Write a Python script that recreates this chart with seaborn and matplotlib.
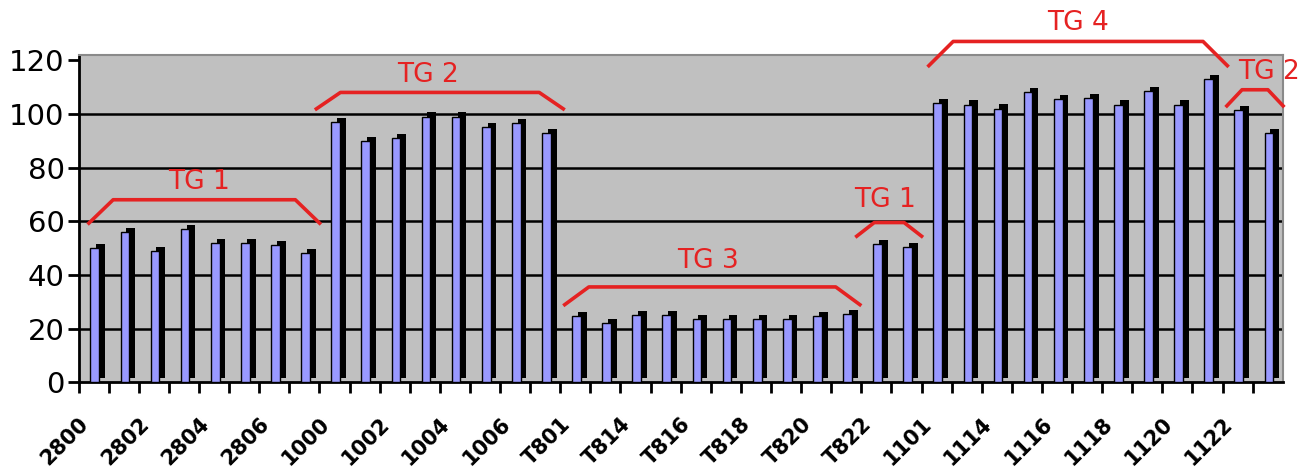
import numpy as np
import pandas as pd
import matplotlib
matplotlib.use("Agg")
import matplotlib.pyplot as plt
import matplotlib.patheffects as pe
import seaborn as sns

# Measured values per bar, grouped by test group
tg1_a = [50, 56, 49, 57, 52, 52, 51, 48]
tg2_a = [97, 90, 91, 99, 99, 95, 96.5, 93]
tg3 = [24.5, 22, 25, 25, 23.5, 23.5, 23.5, 23.5, 24.5, 25.5]
tg1_b = [51.5, 50.5]
tg4 = [104, 103.5, 102, 108, 105.5, 105.8, 103.5, 108.5, 103.5, 113]
tg2_b = [101.5, 93]

# Category labels (one for every second bar)
tick_labels = ["2800", "2802", "2804", "2806", "1000", "1002", "1004", "1006",
               "T801", "T814", "T816", "T818", "T820", "T822",
               "1101", "1114", "1116", "1118", "1120", "1122"]

# Group brackets: (label, start, end, foot value, top value, text x, text y)
brackets = [
    ("TG 1", -0.2, 7.55, 58.8, 68.0, 3.5, 74.5),
    ("TG 2", 7.35, 15.65, 101.5, 108.0, 11.1, 114.5),
    ("TG 3", 15.6, 25.5, 28.5, 35.5, 20.4, 45.0),
    ("TG 1", 25.3, 27.55, 54.0, 59.5, 26.3, 68.0),
    ("TG 4", 27.7, 37.7, 117.5, 127.0, 32.7, 134.0),
    ("TG 2", 37.6, 39.55, 102.5, 109.0, 39.05, 115.5),
]

values = tg1_a + tg2_a + tg3 + tg1_b + tg4 + tg2_b
df = pd.DataFrame({"bar": np.arange(len(values)), "value": values})

sns.set_theme(style="white")
plt.rcParams["font.family"] = ["DejaVu Sans"]

fig = plt.figure(figsize=(13.09, 4.73), dpi=100)
ax = fig.add_axes([0.060, 0.192, 0.920, 0.692])
ax.set_facecolor("#c0c0c0")

sns.barplot(data=df, x="bar", y="value", color="#9999ff", saturation=1,
            width=0.29, edgecolor="black", linewidth=1.0, ax=ax, zorder=3)

# Solid dark side/top to give the bars a block look
for p in ax.patches:
    p.set_x(p.get_x() + 0.04)
    p.set_path_effects([
        pe.SimplePatchShadow(offset=(4.2, 3.0), shadow_rgbFace="black", alpha=1.0),
        pe.Normal(),
    ])

ax.set_ylim(0, 122)
ax.set_xlim(-0.5, len(values) - 0.5)
ax.set_yticks(np.arange(0, 121, 20))
ax.set_yticklabels([str(v) for v in range(0, 121, 20)], fontsize=21)
for y in range(20, 101, 20):
    ax.axhline(y, color="black", lw=1.8, zorder=1)

major = np.arange(-0.5, len(values) - 0.5, 2)
minor = np.arange(0.5, len(values), 2)
ax.set_xticks(major)
ax.set_xticks(minor, minor=True)
ax.set_xticklabels(tick_labels, rotation=45, ha="right", va="top",
                   rotation_mode="anchor", fontsize=15, fontweight="bold",
                   color="black")
ax.set_xlabel("")
ax.set_ylabel("")
ax.tick_params(axis="x", which="both", direction="out", length=8, width=2,
               color="black", bottom=True, pad=15)
ax.tick_params(axis="y", direction="out", length=8, width=2, color="black",
               left=True, pad=2, labelcolor="black")

for side in ("left", "bottom"):
    ax.spines[side].set_color("black")
    ax.spines[side].set_linewidth(2)
for side in ("top", "right"):
    ax.spines[side].set_color("#8a8a8a")
    ax.spines[side].set_linewidth(1.5)

red = "#e52222"
for text, x0, x1, foot, top, tx, ty in brackets:
    span = x1 - x0
    rise = min(0.85, span * 0.28)
    ax.plot([x0, x0 + rise, x1 - rise, x1], [foot, top, top, foot],
            color=red, lw=2.6, solid_capstyle="butt", clip_on=False, zorder=5)
    ax.text(tx, ty, text, color=red, fontsize=19, ha="center", va="center",
            clip_on=False, zorder=5)

fig.savefig("out.png", dpi=100)
